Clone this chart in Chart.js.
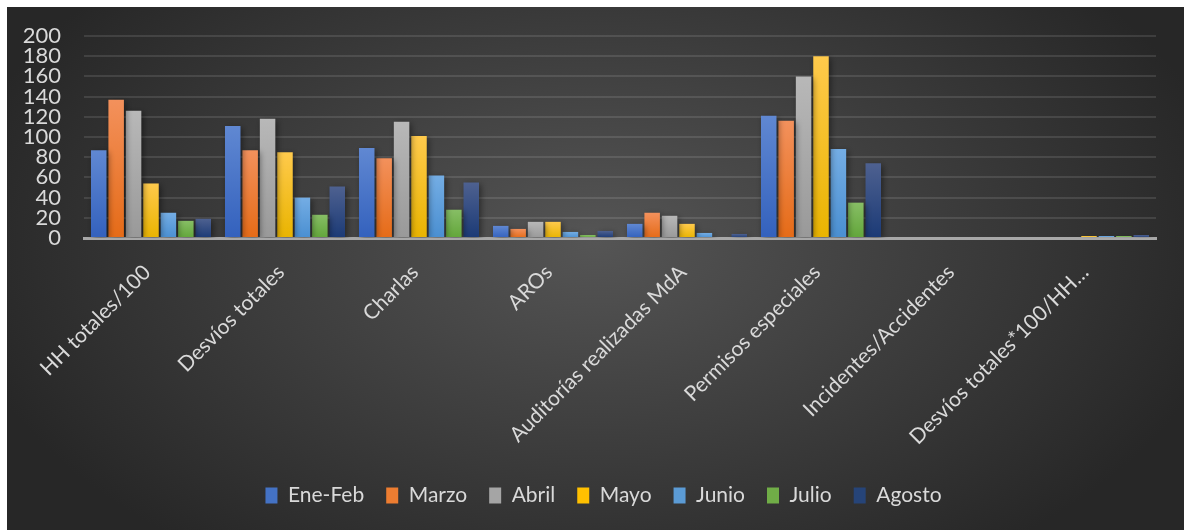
<!DOCTYPE html>
<html>
<head>
<meta charset="utf-8">
<script src="https://cdn.jsdelivr.net/npm/chart.js@4/dist/chart.umd.min.js"></script>
<style>
  html, body { margin: 0; padding: 0; background: #fff; }
  #wrap { position: absolute; left: 7px; top: 7px; width: 1177px; height: 523px; }
</style>
</head>
<body>
<div id="wrap"><canvas id="grafico"></canvas></div>
<script>
// categorias y valores
var categorias = ['HH totales/100', 'Desvíos totales', 'Charlas', 'AROs', 'Auditorías realizadas MdA', 'Permisos especiales', 'Incidentes/Accidentes', 'Desvíos totales*100/HH…'];
var eneFeb = [87, 111, 89, 12, 14, 121, 0, 1];
var marzo  = [137, 87, 79, 9, 25, 116, 0, 1];
var abril  = [126, 118, 115, 16, 22, 160, 1, 1];
var mayo   = [54, 85, 101, 16, 14, 180, 0, 2];
var junio  = [25, 40, 62, 6, 5, 88, 0, 2];
var julio  = [17, 23, 28, 3, 1, 35, 0, 2];
var agosto = [19, 51, 55, 7, 4, 74, 0, 3];
var ticksY = [0, 20, 40, 60, 80, 100, 120, 140, 160, 180, 200];

// colores base y degradado (arriba / abajo)
var colores = [
  ['#4472c4', '#6088d2', '#3361bd'],
  ['#ed7d31', '#f3915c', '#e56b17'],
  ['#a5a5a5', '#b8b8b8', '#999999'],
  ['#ffc000', '#ffca4c', '#e9b400'],
  ['#5b9bd5', '#74ade4', '#4a8fd1'],
  ['#70ad47', '#87be65', '#62a63a'],
  ['#264478', '#4e6190', '#1b3a76']
];

function degradado(i) {
  return function(ctx) {
    var chart = ctx.chart;
    if (!chart.chartArea || ctx.type !== 'data') return colores[i][0];
    var yTop = chart.scales.y.getPixelForValue(ctx.raw);
    var yBot = chart.chartArea.bottom;
    if (yBot - yTop < 1) return colores[i][1];
    var g = chart.ctx.createLinearGradient(0, yTop, 0, yBot);
    g.addColorStop(0, colores[i][1]);
    g.addColorStop(1, colores[i][2]);
    return g;
  };
}

// fondo oscuro con degradado radial + sombra de las barras
var fondo = {
  id: 'fondo',
  afterLayout: function(chart) {
    // la leyenda del original esta algo corrida a la derecha
    chart.legend.left += 22;
    chart.legend.right += 22;
  },
  beforeDraw: function(chart) {
    var c = chart.ctx, w = chart.width, h = chart.height;
    c.save();
    c.translate(w * 0.5, h * 0.45);
    c.scale(1, 0.6);
    var g = c.createRadialGradient(0, 0, 0, 0, 0, w * 0.55);
    g.addColorStop(0, '#555555');
    g.addColorStop(1, '#272727');
    c.fillStyle = g;
    c.fillRect(-w, -h * 2, w * 2, h * 4);
    c.restore();
  },
  beforeDatasetsDraw: function(chart) {
    var c = chart.ctx;
    c.save();
    c.shadowColor = 'rgba(0,0,0,0.45)';
    c.shadowBlur = 6;
    c.shadowOffsetX = 2;
    c.shadowOffsetY = 2;
  },
  afterDatasetsDraw: function(chart) {
    chart.ctx.restore();
  }
};

var nombres = ['Ene-Feb', 'Marzo', 'Abril', 'Mayo', 'Junio', 'Julio', 'Agosto'];
var series = [eneFeb, marzo, abril, mayo, junio, julio, agosto];

var ctx = document.getElementById('grafico').getContext('2d');
var grafico = new Chart(ctx, {
  type: 'bar',
  data: {
    labels: categorias,
    datasets: series.map(function(s, i) {
      return {
        label: nombres[i],
        data: s,
        backgroundColor: degradado(i),
        borderWidth: 0,
        categoryPercentage: 0.91,
        barPercentage: 0.89
      };
    })
  },
  plugins: [fondo],
  options: {
    responsive: true,
    maintainAspectRatio: false,
    animation: false,
    layout: { padding: { top: 29, right: 28, left: 0, bottom: 14 } },
    plugins: {
      tooltip: { enabled: false },
      legend: {
        position: 'bottom',
        labels: {
          color: '#d9d9d9',
          font: { family: 'Lato', size: 21 },
          boxWidth: 12,
          boxHeight: 16,
          padding: 22,
          generateLabels: function(chart) {
            return chart.data.datasets.map(function(d, i) {
              return { text: d.label, fillStyle: colores[i][0], strokeStyle: colores[i][0], lineWidth: 0, fontColor: '#d9d9d9', datasetIndex: i };
            });
          }
        }
      }
    },
    scales: {
      x: {
        grid: { display: false, drawTicks: false },
        border: { display: true, color: '#a8a8a8', width: 3 },
        ticks: { color: '#d9d9d9', font: { family: 'Lato', size: 21 }, minRotation: 45, maxRotation: 45, padding: 22, labelOffset: -4, autoSkip: false },
        afterFit: function(s) { s.height = 225; }
      },
      y: {
        min: 0,
        max: 200,
        afterBuildTicks: function(s) { s.ticks = ticksY.map(function(v) { return { value: v }; }); },
        grid: {
          drawTicks: false,
          lineWidth: 2,
          color: function(c) { return c.tick && c.tick.value === 0 ? 'rgba(0,0,0,0)' : 'rgba(255,255,255,0.11)'; }
        },
        border: { display: false },
        ticks: { color: '#d9d9d9', font: { family: 'Lato', size: 22 }, padding: 23, autoSkip: false },
        afterFit: function(s) { s.width = 77; s.paddingTop = 13; s.paddingBottom = 13; }
      }
    }
  }
});
</script>
</body>
</html>
